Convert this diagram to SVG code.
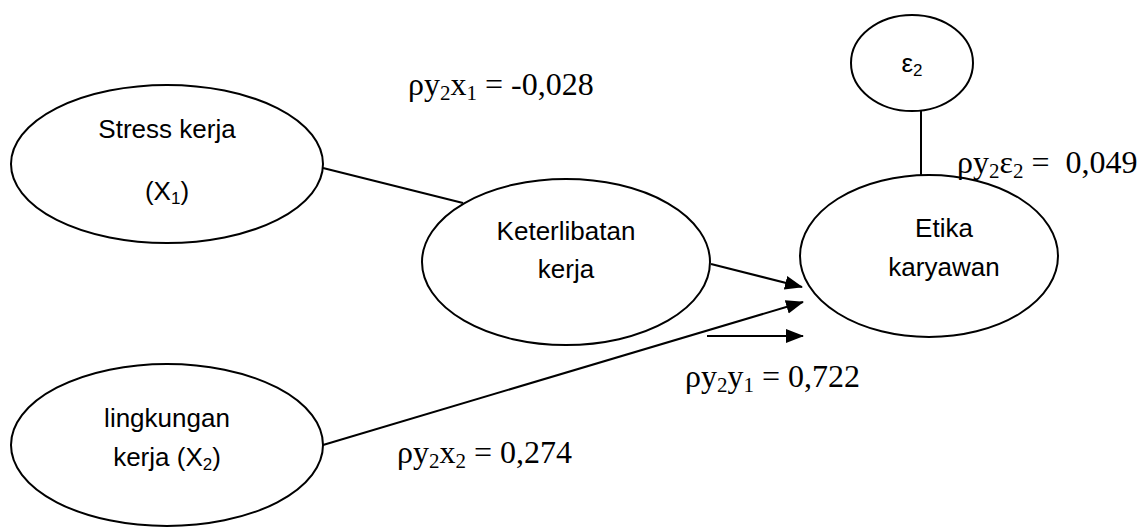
<svg xmlns="http://www.w3.org/2000/svg" width="1139" height="527" viewBox="0 0 1139 527">
  <style>
    .node { fill: #ffffff; stroke: #000000; stroke-width: 2; }
    .edge { fill: none; stroke: #000000; stroke-width: 2; }
    .lbl { font-family: "Liberation Sans", Arial, sans-serif; font-size: 26px; fill: #000000; text-anchor: middle; }
    .coef { font-family: "Liberation Serif", "Times New Roman", serif; font-size: 32px; fill: #000000; white-space: pre; }
    .sub { font-size: 21px; }
    .lsub { font-size: 17px; }
  </style>
  <defs>
    <marker id="arrow" markerWidth="18" markerHeight="16" refX="17" refY="8" orient="auto" markerUnits="userSpaceOnUse">
      <path d="M0,1 L18,8 L0,15 Z" fill="#000000"/>
    </marker>
  </defs>

  <g id="connectors">
    <line class="edge" x1="323" y1="168" x2="463" y2="203"/>
    <line class="edge" x1="921" y1="111" x2="921" y2="176"/>
    <line class="edge" x1="711" y1="264" x2="802" y2="287" marker-end="url(#arrow)"/>
    <line class="edge" x1="323" y1="445" x2="803" y2="302" marker-end="url(#arrow)"/>
    <line class="edge" x1="707" y1="336" x2="803" y2="336" marker-end="url(#arrow)"/>
  </g>

  <g id="node-stress">
    <ellipse class="node" cx="167" cy="164" rx="156" ry="79"/>
    <text class="lbl" x="167" y="138">Stress kerja</text>
    <text class="lbl" x="167" y="200">(X<tspan class="lsub" dy="4">1</tspan><tspan dy="-4">)</tspan></text>
  </g>

  <g id="node-lingkungan">
    <ellipse class="node" cx="167" cy="445" rx="156" ry="81"/>
    <text class="lbl" x="167" y="427">lingkungan</text>
    <text class="lbl" x="167" y="466">kerja (X<tspan class="lsub" dy="4">2</tspan><tspan dy="-4">)</tspan></text>
  </g>

  <g id="node-keterlibatan">
    <ellipse class="node" cx="566" cy="262" rx="144" ry="83"/>
    <text class="lbl" x="566" y="240">Keterlibatan</text>
    <text class="lbl" x="566" y="278">kerja</text>
  </g>

  <g id="node-etika">
    <ellipse class="node" cx="929" cy="256" rx="129" ry="81"/>
    <text class="lbl" x="944" y="237">Etika</text>
    <text class="lbl" x="944" y="276">karyawan</text>
  </g>

  <g id="node-epsilon">
    <ellipse class="node" cx="912" cy="63" rx="61" ry="48"/>
    <text class="lbl" x="912" y="72">ε<tspan class="lsub" dy="4">2</tspan></text>
  </g>

  <g id="labels">
    <text class="coef" x="408" y="95">ρy<tspan class="sub" dy="5">2</tspan><tspan dy="-5">x</tspan><tspan class="sub" dy="5">1</tspan><tspan dy="-5"> = -0,028</tspan></text>
    <text class="coef" x="957" y="173">ρy<tspan class="sub" dy="5">2</tspan><tspan dy="-5">ε</tspan><tspan class="sub" dy="5">2</tspan><tspan dy="-5"> =  0,049</tspan></text>
    <text class="coef" x="685" y="387">ρy<tspan class="sub" dy="5">2</tspan><tspan dy="-5">y</tspan><tspan class="sub" dy="5">1</tspan><tspan dy="-5"> = 0,722</tspan></text>
    <text class="coef" x="397" y="463">ρy<tspan class="sub" dy="5">2</tspan><tspan dy="-5">x</tspan><tspan class="sub" dy="5">2</tspan><tspan dy="-5"> = 0,274</tspan></text>
  </g>
</svg>
